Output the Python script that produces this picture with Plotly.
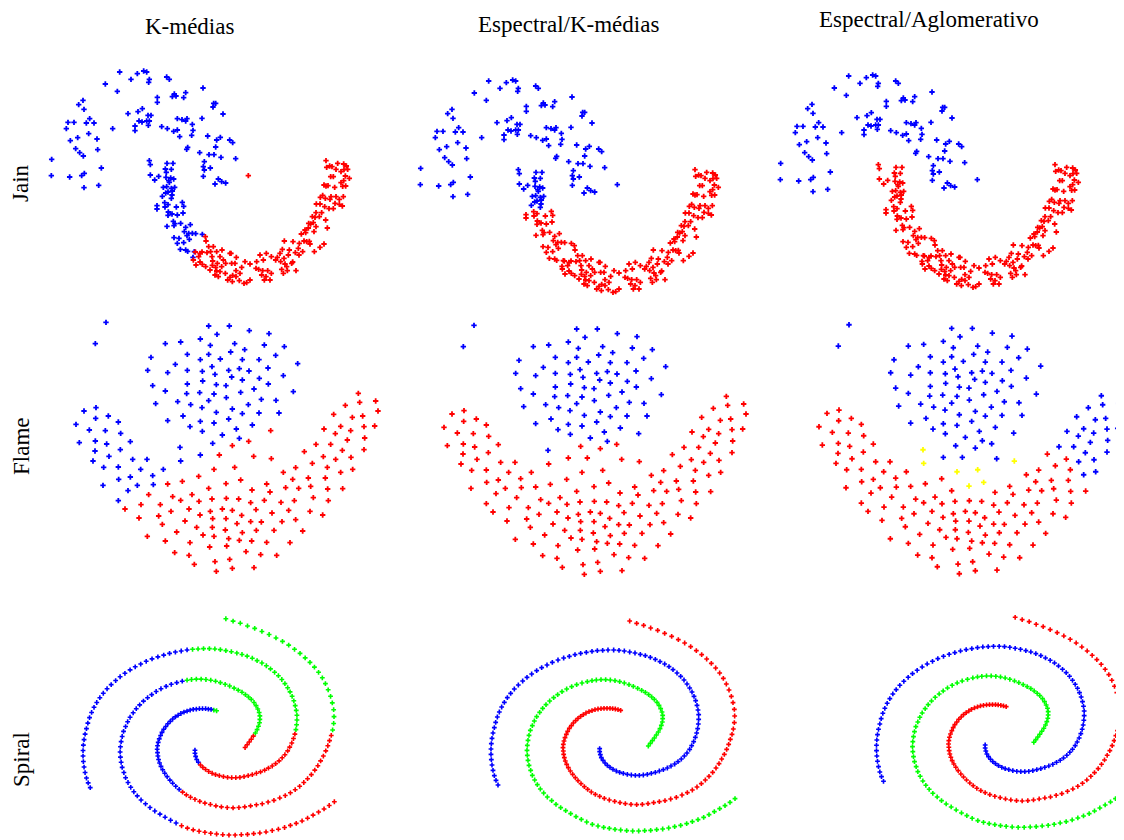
import plotly.graph_objects as go

# The page body has an 8px margin, so the figure is placed 8px in from the window corner.
OFF = 8
W, H = 1124 - OFF, 840 - OFF

# ---------------- Jain (x, y; y grows downward) ----------------
JAIN_UPPER = [(239,36),(292,41),(311,33),(320,36),(273,58),(328,58),(326,67),(380,51),(388,58),(196,72),(232,94),(489,84),
    (352,112),(352,127),(403,102),(397,110),(408,108),(437,98),(431,113),(116,134),(129,121),(132,148),(264,161),(294,155),
    (307,146),(324,166),(333,166),(297,183),(306,186),(320,183),(328,183),(325,196),(285,198),(285,212),(218,206),(149,176),
    (139,189),(162,189),(84,187),(102,187),(79,206),(146,221),(113,233),(91,242),(171,237),(107,266),(173,269),(119,278),
    (130,288),(184,324),(133,340),(125,347),(89,351),(35,298),(34,347),(132,383),(176,376),(412,176),(426,179),(441,176),
    (437,183),(457,193),(459,211),(455,226),(365,200),(382,206),(401,214),(412,210),(419,230),(443,262),(440,268),(486,175),
    (521,130),(527,130),(519,141),(549,162),(503,228),(541,232),(530,240),(569,240),(578,248),(479,278),(507,284),(522,284),
    (527,261),(543,292),(587,296),(493,305),(490,320),(493,330),(511,324),(490,349),(535,357),(545,365),(557,369),(525,372)]
JAIN_LONE = [(625,347)]
JAIN_JUNC_TOP = [(328,302),(331,314),(381,310),(399,310),(376,327),(394,328),(379,337),(356,349),(331,345),(344,360),
    (378,352),(386,362),(392,354),(401,357),(388,367),(380,380),(370,382),(394,385),(404,382),(397,393),(384,396),(377,399),
    (396,405),(367,409),(394,415)]
JAIN_JUNC_LOW = [(374,428),(384,434),(351,437),(351,447),(375,441),(427,427),(431,439),(409,441),(385,456),(396,462),
    (384,466),(412,465),(429,459),(400,484),(405,491),(381,499),(402,497),(422,490),(451,494),(437,502),(433,515),(446,520),
    (457,520),(467,521),(487,523),(402,533),(417,535),(412,550),(431,548),(441,527),(448,538),(421,568),(437,570),(443,574),
    (463,575),(459,592)]
JAIN_LOWER = [(858,302),(869,318),(860,322),(876,320),(893,310),(911,312),(919,318),(923,328),(912,329),(903,335),(888,328),
    (872,350),(880,350),(916,348),(928,355),(911,362),(903,368),(917,378),(908,379),(852,375),(858,378),(864,377),(884,382),
    (848,406),(841,412),(856,415),(873,410),(870,418),(888,410),(910,410),(898,418),(885,430),(898,433),(907,438),(829,432),
    (840,432),(854,440),(867,446),(880,446),(845,458),(828,458),(817,470),(825,472),(838,470),(857,480),(806,490),(812,492),
    (820,488),(828,500),(805,504),(795,510),(822,515),(862,504),(784,522),(797,518),(792,543),(800,545),(778,550),(810,552),
    (808,544),(852,552),(840,562),(823,575),(775,565),(766,578),(777,585),(788,575),(733,543),(759,545),(748,570),(727,568),
    (745,585),(720,580),(732,595),(712,592),(707,600),(694,590),(679,580),(660,585),(670,600),(650,605),(656,628),(668,632),
    (683,632),(665,645),(678,650),(694,640),(690,660),(673,660),(648,625),(722,605),(735,612),(725,628),(742,632),(730,640),
    (755,610),(768,632),(758,606),(740,620),(630,612),(615,605),(630,660),(612,670),(620,668),(600,640),(588,632),(605,622),
    (585,610),(589,592),(598,662),(588,650),(578,646),(563,660),(577,665),(570,652),(570,580),(546,570),(573,580),(540,590),
    (550,600),(557,610),(545,620),(575,610),(532,610),(518,603),(517,616),(527,622),(510,630),(530,633),(540,635),(525,645),
    (535,650),(556,640),(497,620),(487,613),(480,606),(476,590),(486,576),(501,578),(506,560),(496,530),(498,543),(512,575),
    (516,590),(468,615),(466,576),(460,600),(480,580),(520,560),(530,575)]
# colours per column: K-médias, Espectral/K-médias, Espectral/Aglomerativo
JAIN_GROUPS = [(JAIN_UPPER, ("b", "b", "b")), (JAIN_LONE, ("r", "b", "b")), (JAIN_JUNC_TOP, ("b", "b", "r")),
               (JAIN_JUNC_LOW, ("b", "r", "r")), (JAIN_LOWER, ("r", "r", "r"))]

# ---------------- Flame ----------------
FLAME_CORE = [(138,22),(106,86),(446,33),(508,33),(568,47),(627,56),(471,58),(421,72),(362,81),(316,86),(451,91),(524,86),
    (554,104),(613,90),(673,95),(273,127),(382,118),(421,134),(446,118),(481,132),(512,111),(547,134),(597,134),(647,121),
    (713,146),(263,166),(323,173),(346,148),(382,166),(427,169),(456,155),(465,178),(506,166),(538,161),(567,168),(624,159),
    (670,182),(598,190),(278,212),(316,228),(382,207),(380,236),(419,233),(428,198),(469,209),(498,212),(515,186),(547,195),
    (582,222),(625,207),(700,230),(542,232),(462,237),(446,257),(499,248),(287,266),(353,260),(392,269),(426,278),(469,292),
    (517,282),(547,296),(565,269),(604,253),(648,256),(597,294),(657,294),(323,317),(369,303),(390,335),(421,319),(462,324),
    (506,312),(427,349),(487,360),(529,342),(538,370),(577,330)]
FLAME_LEFT = [(72,288),(108,278),(48,328),(88,345),(107,310),(145,303),(175,321),(136,347),(182,355),(58,383),(106,378),
    (140,387),(211,380),(105,408),(181,404),(147,424),(99,438),(218,433),(131,457),(175,456),(261,433),(242,463),(176,493),
    (211,486),(278,482),(310,463),(129,511),(232,511),(204,527),(280,509),(175,557)]
FLAME_RIGHT_OUT = [(895,235),(899,262),(947,258),(954,288),(856,271),(821,298),(877,307),(908,303),(842,334),(872,347),
    (912,335),(944,333),(792,342),(826,356),(862,375),(914,369),(768,388),(812,388),(847,406),(912,404),(827,433),(873,427),
    (842,472),(878,463)]
FLAME_BOTTOM = [(266,539),(338,545),(362,556),(396,539),(456,552),(499,550),(536,552),(572,563),(613,556),(417,559),(195,582),
    (243,569),(301,569),(387,582),(333,589),(451,589),(487,582),(517,586),(588,584),(636,594),(296,603),(420,600),(458,611),
    (498,611),(545,601),(237,609),(307,628),(375,618),(410,637),(457,637),(531,626),(572,620),(604,621),(350,651),(496,645),
    (547,653),(589,646),(642,646),(262,664),(429,660),(462,664),(506,671),(538,676),(575,678),(620,682),(316,678),(390,683),
    (449,696),(500,693),(344,713),(387,721),(558,710),(602,719),(650,721),(403,748),(465,740),(509,733),(469,769),(517,760),
    (582,758),(690,683),(728,648),(666,620),(707,614),(686,586),(750,589),(788,600),(663,562),(703,557),(760,548),(805,557),
    (677,518),(716,520),(752,514),(803,522),(848,521),(670,472),(698,493),(745,489),(796,489),(707,458),(757,445),(802,457),
    (733,410),(790,425),(416,484),(367,499),(323,507),(446,520),(576,525),(620,507),(630,531)]
FLAME_S1 = [(632,347)]
FLAME_S2 = [(458,385),(421,420)]
FLAME_S3 = [(362,438)]
FLAME_S4 = [(360,397)]
FLAME_S5 = [(462,463),(524,457),(498,506),(542,495),(634,431)]
FLAME_S6 = [(478,420),(581,424),(517,392),(566,379)]
FLAME_GROUPS = [(FLAME_CORE, ("b", "b", "b")), (FLAME_LEFT, ("b", "r", "r")), (FLAME_RIGHT_OUT, ("r", "r", "b")),
                (FLAME_BOTTOM, ("r", "r", "r")), (FLAME_S1, ("r", "b", "b")), (FLAME_S2, ("b", "r", "b")),
                (FLAME_S3, ("b", "r", "y")), (FLAME_S4, ("b", "b", "y")), (FLAME_S5, ("r", "r", "y")),
                (FLAME_S6, ("r", "r", "b"))]

# ---------------- Spiral (three arms, inner -> outer) ----------------
ARM1_A = [(452,301),(444,299)]
ARM1_B = [(436,297),(428,296),(420,295),(411,295),(402,295),(393,296),(384,297),(375,299),(366,302),(357,305),(348,309),
    (340,314),(332,319),(324,325),(317,332),(310,339),(304,347),(298,355),(293,364),(289,373),(285,383),(282,393),(280,403),
    (279,413),(280,423),(281,433),(283,443),(286,453),(290,463),(295,473),(301,483),(308,493),(316,503),(324,512),(333,521),
    (343,530)]
ARM1_C = [(353,538),(364,546),(376,553),(389,559),(403,565),(418,570),(434,574),(450,578),(466,581),(483,583),(500,584),
    (517,583),(534,581),(551,578),(568,575),(585,572),(602,567),(619,562),(636,555),(652,548),(667,540),(681,531),(694,521),
    (706,510),(717,499),(728,487),(738,474),(747,461),(755,447),(763,433),(770,418),(776,403),(781,388),(786,373)]
ARM1_D = [(790,357),(793,338),(794,318),(793,298),(789,278),(784,259),(777,240),(769,222),(760,205),(749,189),(737,174),
    (724,160),(710,147),(695,134),(679,122),(662,110),(644,99),(625,89),(605,79),(584,70),(563,61),(542,54),(521,46),
    (500,40),(479,33)]
ARM2_A = [(535,408),(541,400),(547,392),(553,384),(559,375)]
ARM2_B = [(565,366),(570,356),(574,346),(577,336),(578,326),(578,316),(576,306),(572,296),(567,286),(561,277),(553,268),
    (545,261),(536,254),(526,247),(515,241),(503,235),(490,229),(477,224),(463,219),(449,215),(435,212),(421,210),(407,209),
    (393,209),(379,210),(366,212)]
ARM2_C = [(352,215),(336,219),(320,224),(305,230),(290,237),(276,245),(263,254),(251,263),(239,273),(228,284),(218,295),
    (209,307),(200,320),(193,333),(187,347),(181,361),(177,376),(174,391),(172,406),(171,421),(172,436),(174,451),(177,466),
    (182,481),(187,496),(194,510),(202,524),(211,537),(221,549),(232,561),(245,572),(258,583),(272,593),(287,602),(302,611),
    (318,620),(334,628)]
ARM2_D = [(350,636),(367,643),(384,648),(401,652),(418,655),(435,658),(452,660),(470,662),(488,663),(506,663),(524,662),
    (542,661),(560,659),(578,657),(596,654),(614,650),(632,646),(650,641),(667,635),(684,629),(701,622),(717,614),(733,605),
    (749,596),(765,587),(780,577),(795,566),(810,556)]
ARM3_A = [(389,416),(389,425),(391,434),(394,443),(399,451)]
ARM3_B = [(405,459),(412,466),(420,472),(429,478),(439,483),(449,487),(460,490),(472,493),(484,495),(496,496),(508,496),
    (520,495),(532,493),(544,490),(556,487),(568,483),(580,479),(592,474),(603,468),(614,462),(624,455),(634,447),(643,438),
    (651,429),(659,418),(665,407),(671,395),(676,382),(680,369)]
ARM3_C = [(683,356),(685,342),(686,328),(686,314),(684,300),(681,286),(677,272),(672,259),(666,246),(659,234),(651,222),
    (642,210),(632,199),(621,189),(609,179),(597,170),(584,162),(570,155),(556,148),(541,142),(526,137),(511,133),(495,129),
    (479,126),(463,123),(447,121),(431,120),(414,120),(398,121),(382,122)]
ARM3_D = [(366,124),(349,127),(332,130),(315,134),(298,139),(281,144),(264,150),(247,157),(231,165),(215,173),(200,182),
    (185,192),(171,202),(158,213),(145,225),(133,237),(122,250),(112,263),(103,277),(95,291),(88,306),(82,321),(77,337),
    (73,353),(69,369),(66,385),(64,401),(63,417),(63,433),(64,449),(66,465),(69,481),(73,497),(78,511),(84,525)]
SPIRAL_GROUPS = [(ARM1_A, ("g", "r", "r")), (ARM1_B, ("b", "r", "r")), (ARM1_C, ("r", "r", "r")), (ARM1_D, ("g", "r", "r")),
                 (ARM2_A, ("r", "g", "g")), (ARM2_B, ("g", "g", "g")), (ARM2_C, ("b", "g", "g")), (ARM2_D, ("r", "g", "g")),
                 (ARM3_A, ("b", "b", "b")), (ARM3_B, ("r", "b", "b")), (ARM3_C, ("g", "b", "b")), (ARM3_D, ("b", "b", "b"))]

COLUMN_TITLES = ["K-médias", "Espectral/K-médias", "Espectral/Aglomerativo"]
ROW_TITLES = ["Jain", "Flame", "Spiral"]
COLORS = {"b": "#0000ff", "r": "#ff0000", "g": "#00ff00", "y": "#ffff00"}

# ---------------- placement of the panels (window pixels) ----------------
# dataset: (x-range, y-range, [(left px, top px, scale) per column], marker size)
PANELS = [
    (JAIN_GROUPS, (0, 990), (0, 690), [(40, 60, 1.0), (409, 69, 1.0), (769, 64, 1.0)], 4.5),
    (FLAME_GROUPS, (0, 960), (0, 795), [(60, 315, 1.0), (428, 318, 1.0), (803, 317.4, 1.0)], 4.5),
    (SPIRAL_GROUPS, (0, 805), (-30, 675), [(61.4, 607.4, 1.03), (470, 610, 1.0), (855.5, 606.3, 1.0)], 4),
]

fig = go.Figure()
layout = {}
k = 0
for groups, xr, yr, places, msize in PANELS:
    for col, (ox, oy, s) in enumerate(places):
        k += 1
        sfx = "" if k == 1 else str(k)
        x0 = (ox - OFF + s * xr[0] / 3) / W
        x1 = (ox - OFF + s * xr[1] / 3) / W
        top = oy - OFF + s * yr[0] / 3
        bot = oy - OFF + s * yr[1] / 3
        layout["xaxis" + sfx] = dict(domain=[max(0, x0), min(1, x1)], range=list(xr), visible=False, fixedrange=True)
        layout["yaxis" + sfx] = dict(domain=[max(0, 1 - bot / H), min(1, 1 - top / H)], range=[yr[1], yr[0]],
                                     visible=False, fixedrange=True)
        by_color = {}
        for pts, cols in groups:
            by_color.setdefault(cols[col], []).extend(pts)
        for c, pts in by_color.items():
            fig.add_trace(go.Scatter(
                x=[p[0] for p in pts], y=[p[1] for p in pts], mode="markers",
                xaxis="x" + sfx, yaxis="y" + sfx, cliponaxis=False, showlegend=False, hoverinfo="skip",
                marker=dict(symbol="cross", size=msize, color=COLORS[c], line=dict(width=0))))

font = dict(family="Liberation Serif, Times New Roman, serif", size=23, color="black")
annotations = []
for title, (px, py) in zip(COLUMN_TITLES, [(189, 26), (568, 24), (929, 20)]):
    annotations.append(dict(text=title, x=(px - OFF) / W, y=1 - (py - OFF) / H, xref="paper", yref="paper",
                            xanchor="center", yanchor="middle", showarrow=False, font=font))
for title, py in zip(ROW_TITLES, [183, 446, 760]):
    annotations.append(dict(text=title, x=(21 - OFF) / W, y=1 - (py - OFF) / H, xref="paper", yref="paper",
                            textangle=-90, xanchor="center", yanchor="middle", showarrow=False, font=font))

fig.update_layout(width=W, height=H, margin=dict(l=0, r=0, t=0, b=0), paper_bgcolor="white",
                  plot_bgcolor="rgba(0,0,0,0)", annotations=annotations, **layout)
fig.write_html("out.html")
